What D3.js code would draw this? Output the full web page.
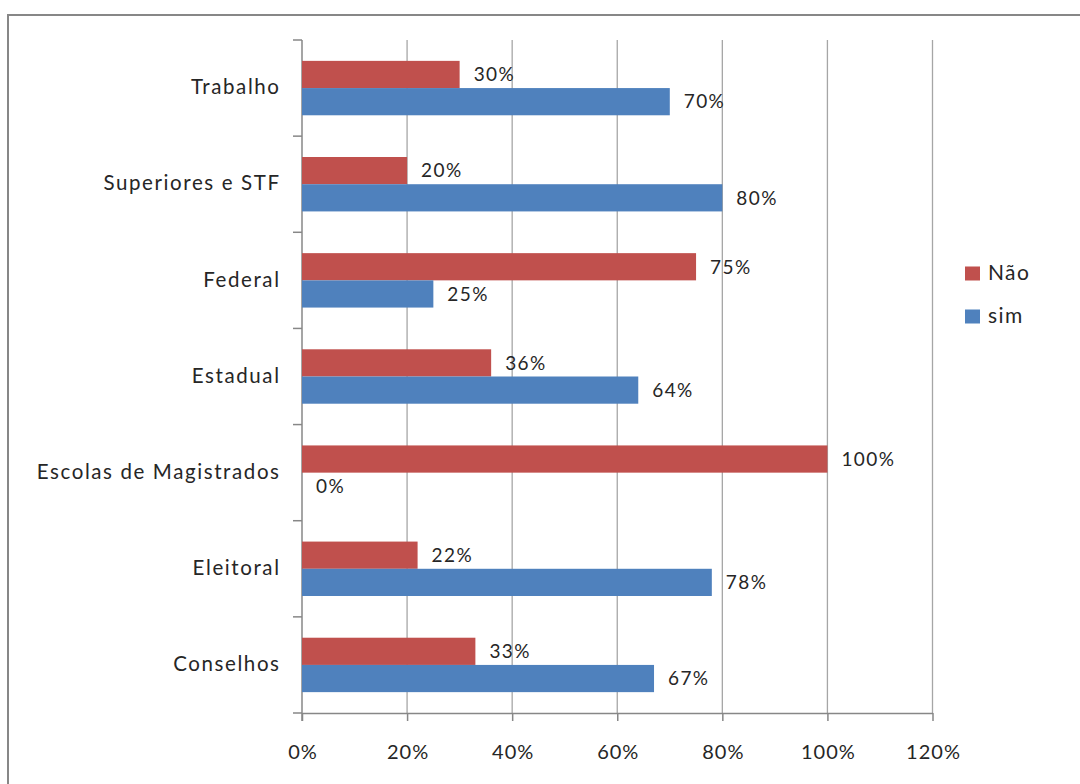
<!DOCTYPE html>
<html><head><meta charset="utf-8">
<script src="https://cdn.jsdelivr.net/npm/d3@7"></script>
<style>
body{margin:0;background:#fff;}
svg{display:block;font-family:Lato, "Open Sans", sans-serif;}
</style></head>
<body><div id="chart"></div>
<script>
const categories = ["Trabalho","Superiores e STF","Federal","Estadual","Escolas de Magistrados","Eleitoral","Conselhos"];
const seriesNames = ["Não","sim"];
const naoValues = [30,20,75,36,100,22,33];
const simValues = [70,80,25,64,0,78,67];
const xTicks = [0,20,40,60,80,100,120];
const colors = ["#C0504D","#4F81BD"];

(function(){
const W=1080,H=784;
const txt="#262626";
const svg=d3.select("#chart").append("svg").attr("width",W).attr("height",H);
svg.append("rect").attr("x",8).attr("y",15).attr("width",1090).attr("height",800)
  .attr("fill","none").attr("stroke","#878787").attr("stroke-width",2);

const pL=302,pR=932.5,pT=40,pB=713;
const x=d3.scaleLinear().domain([0,120]).range([pL,pR]);
const y=d3.scaleBand().domain(categories).range([pT,pB]).paddingInner(0.434).paddingOuter(0.217);
const y1=d3.scaleBand().domain(seriesNames).range([0,y.bandwidth()]);

// gridlines
svg.append("g").selectAll("line").data(xTicks.slice(1)).join("line")
  .attr("x1",d=>x(d)).attr("x2",d=>x(d)).attr("y1",pT).attr("y2",pB)
  .attr("stroke","#a6a6a6").attr("stroke-width",1.3);

// x axis
const xAxis=svg.append("g").attr("transform",`translate(0,${pB})`)
  .call(d3.axisBottom(x).tickValues(xTicks).tickFormat(d=>d+"%").tickSize(8).tickSizeOuter(0));
xAxis.select(".domain").attr("stroke","#878787").attr("stroke-width",1.5);
xAxis.selectAll(".tick line").attr("stroke","#878787").attr("stroke-width",1.5);
xAxis.selectAll(".tick text").attr("font-size",20).attr("fill",txt).attr("dy","1.75em")
  .attr("font-family","Lato").attr("letter-spacing","1px").attr("dx","0.5px");

// y axis with category boundary ticks
const yAxisG=svg.append("g");
yAxisG.append("line").attr("x1",pL).attr("x2",pL).attr("y1",pT).attr("y2",pB+8)
  .attr("stroke","#878787").attr("stroke-width",1.5);
const bounds=d3.range(categories.length+1).map(i=>pT+i*(pB-pT)/categories.length);
yAxisG.selectAll("line.t").data(bounds).join("line").attr("class","t")
  .attr("x1",pL-9).attr("x2",pL).attr("y1",d=>d).attr("y2",d=>d)
  .attr("stroke","#878787").attr("stroke-width",1.5);
yAxisG.selectAll("text").data(categories).join("text")
  .attr("x",pL-23+1.6).attr("y",(d,i)=>(bounds[i]+bounds[i+1])/2+1)
  .attr("text-anchor","end").attr("dominant-baseline","middle")
  .attr("font-size",20.5).attr("letter-spacing","1.6px").attr("fill",txt).text(d=>d);

// bars
const data=categories.map((c,i)=>({cat:c,vals:[naoValues[i],simValues[i]]}));
const g=svg.append("g");
data.forEach(d=>{
  d.vals.forEach((v,j)=>{
    const yy=y(d.cat)+y1(seriesNames[j]);
    g.append("rect").attr("x",x(0)).attr("y",yy).attr("width",x(v)-x(0)).attr("height",y1.bandwidth())
      .attr("fill",colors[j]);
    g.append("text").attr("x",x(v)+14).attr("y",yy+y1.bandwidth()/2+2)
      .attr("dominant-baseline","middle").attr("font-size",19).attr("letter-spacing","1.4px").attr("fill",txt)
      .text(v+"%");
  });
});

// legend
const leg=svg.append("g");
seriesNames.forEach((s,i)=>{
  const ly=273.5+i*43;
  leg.append("rect").attr("x",965).attr("y",ly-7).attr("width",15).attr("height",14).attr("fill",colors[i]);
  leg.append("text").attr("x",988).attr("y",ly+1).attr("dominant-baseline","middle")
    .attr("font-size",21).attr("letter-spacing","1.4px").attr("fill",txt).text(s);
});
})();
</script></body></html>
